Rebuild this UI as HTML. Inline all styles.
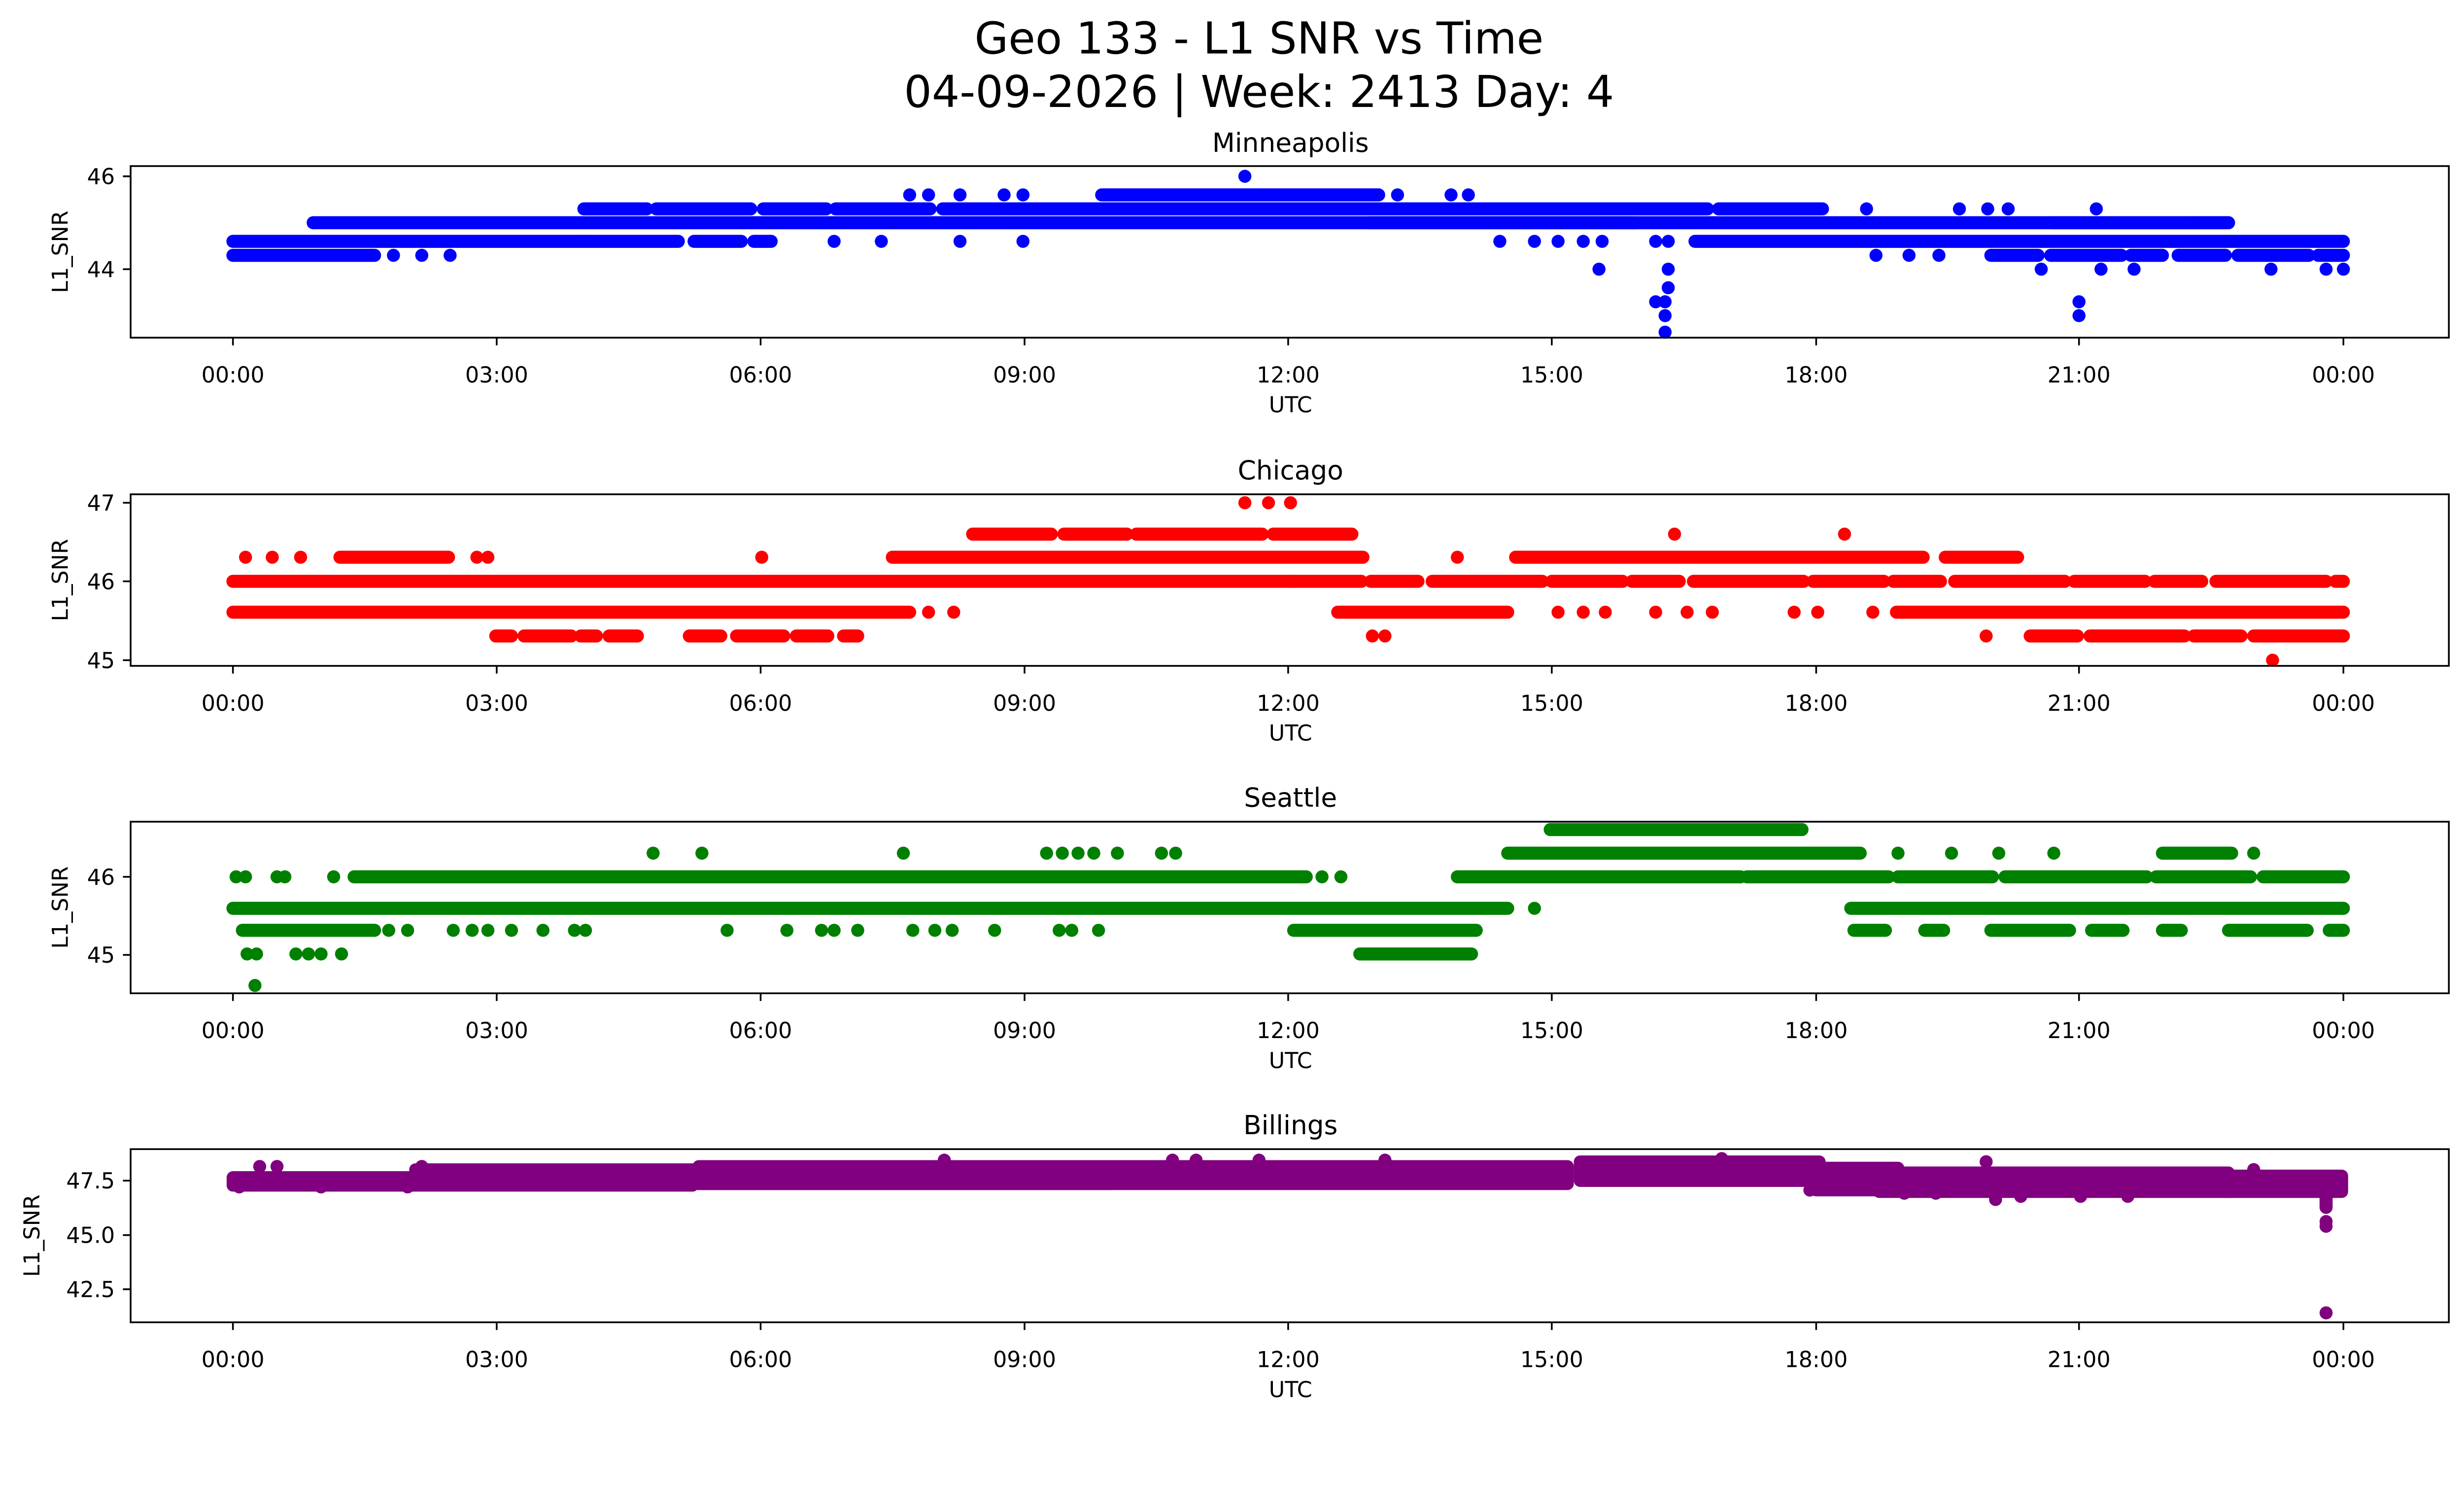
<!DOCTYPE html>
<html><head><meta charset="utf-8"><style>html,body{margin:0;padding:0;background:#fff;width:5278px;height:3033px;overflow:hidden}svg{display:block}circle{stroke:none}</style></head>
<body>
<svg xmlns="http://www.w3.org/2000/svg" width="5278" height="3033" font-family="'DejaVu Sans','Liberation Sans',sans-serif">
<rect width="5278" height="3033" fill="#fff"/>
<g transform="scale(3.1936)">
<text x="800" y="34" font-size="27.8" text-anchor="middle">Geo 133 - L1 SNR vs Time</text>
<text x="800" y="68" font-size="27.8" text-anchor="middle">04-09-2026 | Week: 2413 Day: 4</text>

<g stroke="#0000ff" stroke-width="8.3" stroke-linecap="round" fill="#0000ff">
<line x1="148" y1="162.2" x2="238" y2="162.2"/>
<line x1="148" y1="153.3" x2="371" y2="153.3"/>
<line x1="371" y1="153.3" x2="490" y2="153.3" stroke-dasharray="60 10 30 8"/>
<line x1="199" y1="141.5" x2="1416" y2="141.5"/>
<line x1="371" y1="132.7" x2="700" y2="132.7" stroke-dasharray="40 6 60 8"/>
<line x1="640" y1="132.7" x2="1085" y2="132.7"/>
<line x1="1092" y1="132.7" x2="1158" y2="132.7"/>
<line x1="700" y1="123.8" x2="876" y2="123.8"/>
<line x1="870" y1="141.5" x2="1040" y2="141.5"/>
<line x1="1077" y1="153.3" x2="1489" y2="153.3"/>
<line x1="1265" y1="162.2" x2="1489" y2="162.2" stroke-dasharray="30 8 45 6 20 10"/>
<line x1="1303" y1="141.5" x2="1416" y2="141.5"/>
<circle cx="791" cy="112" r="4.15"/>
<circle cx="250" cy="162.2" r="4.15"/><circle cx="268" cy="162.2" r="4.15"/><circle cx="286" cy="162.2" r="4.15"/>
<circle cx="530" cy="153.3" r="4.15"/><circle cx="560" cy="153.3" r="4.15"/><circle cx="610" cy="153.3" r="4.15"/><circle cx="650" cy="153.3" r="4.15"/>
<circle cx="578" cy="123.8" r="4.15"/><circle cx="590" cy="123.8" r="4.15"/><circle cx="610" cy="123.8" r="4.15"/><circle cx="638" cy="123.8" r="4.15"/><circle cx="650" cy="123.8" r="4.15"/>
<circle cx="888" cy="123.8" r="4.15"/><circle cx="922" cy="123.8" r="4.15"/><circle cx="933" cy="123.8" r="4.15"/>
<circle cx="953" cy="153.3" r="4.15"/><circle cx="975" cy="153.3" r="4.15"/><circle cx="990" cy="153.3" r="4.15"/><circle cx="1006" cy="153.3" r="4.15"/><circle cx="1018" cy="153.3" r="4.15"/>
<circle cx="1016" cy="171" r="4.15"/>
<circle cx="1052" cy="153.3" r="4.15"/><circle cx="1060" cy="153.3" r="4.15"/>
<circle cx="1052" cy="191.7" r="4.15"/><circle cx="1058" cy="191.7" r="4.15"/><circle cx="1058" cy="200.5" r="4.15"/><circle cx="1058" cy="211" r="4.15"/><circle cx="1060" cy="182.8" r="4.15"/><circle cx="1060" cy="171" r="4.15"/>
<circle cx="1186" cy="132.7" r="4.15"/><circle cx="1245" cy="132.7" r="4.15"/><circle cx="1263" cy="132.7" r="4.15"/><circle cx="1276" cy="132.7" r="4.15"/><circle cx="1332" cy="132.7" r="4.15"/>
<circle cx="1192" cy="162.2" r="4.15"/><circle cx="1213" cy="162.2" r="4.15"/><circle cx="1232" cy="162.2" r="4.15"/>
<circle cx="1297" cy="171" r="4.15"/><circle cx="1335" cy="171" r="4.15"/><circle cx="1356" cy="171" r="4.15"/><circle cx="1443" cy="171" r="4.15"/><circle cx="1478" cy="171" r="4.15"/><circle cx="1489" cy="171" r="4.15"/>
<circle cx="1321" cy="191.7" r="4.15"/><circle cx="1321" cy="200.5" r="4.15"/>
</g>

<g stroke="#ff0000" stroke-width="8.3" stroke-linecap="round" fill="#ff0000">
<line x1="148" y1="369.3" x2="820" y2="369.3"/>
<line x1="820" y1="369.3" x2="1489" y2="369.3" stroke-dasharray="45 6 30 9 70 6"/>
<line x1="148" y1="388.9" x2="578" y2="388.9"/>
<line x1="850" y1="388.9" x2="958" y2="388.9"/>
<line x1="1205" y1="388.9" x2="1489" y2="388.9"/>
<line x1="315" y1="404" x2="405" y2="404" stroke-dasharray="10 8 30 6"/>
<line x1="438" y1="404" x2="545" y2="404" stroke-dasharray="20 10 30 8"/>
<line x1="1290" y1="404" x2="1489" y2="404" stroke-dasharray="30 8 60 6"/>
<line x1="216" y1="354" x2="285" y2="354"/>
<line x1="567" y1="354" x2="866" y2="354"/>
<line x1="963" y1="354" x2="1222" y2="354"/>
<line x1="1236" y1="354" x2="1282" y2="354"/>
<line x1="618" y1="339.3" x2="860" y2="339.3" stroke-dasharray="50 8 40 6 80 7"/>
<circle cx="156" cy="354" r="4.15"/><circle cx="173" cy="354" r="4.15"/><circle cx="191" cy="354" r="4.15"/><circle cx="303" cy="354" r="4.15"/><circle cx="310" cy="354" r="4.15"/>
<circle cx="484" cy="354" r="4.15"/><circle cx="926" cy="354" r="4.15"/><circle cx="1064" cy="339.3" r="4.15"/><circle cx="1172" cy="339.3" r="4.15"/>
<circle cx="791" cy="319.4" r="4.15"/><circle cx="806" cy="319.4" r="4.15"/><circle cx="820" cy="319.4" r="4.15"/>
<circle cx="872" cy="404" r="4.15"/><circle cx="880" cy="404" r="4.15"/>
<circle cx="990" cy="388.9" r="4.15"/><circle cx="1006" cy="388.9" r="4.15"/><circle cx="1020" cy="388.9" r="4.15"/><circle cx="1052" cy="388.9" r="4.15"/><circle cx="1072" cy="388.9" r="4.15"/><circle cx="1088" cy="388.9" r="4.15"/><circle cx="1140" cy="388.9" r="4.15"/><circle cx="1155" cy="388.9" r="4.15"/><circle cx="1190" cy="388.9" r="4.15"/>
<circle cx="590" cy="388.9" r="4.15"/><circle cx="606" cy="388.9" r="4.15"/><circle cx="1262" cy="404" r="4.15"/>
<circle cx="1444" cy="419.4" r="4.15"/>
</g>

<g stroke="#008000" stroke-width="8.3" stroke-linecap="round" fill="#008000">
<line x1="148" y1="577" x2="958" y2="577"/>
<line x1="1176" y1="577" x2="1489" y2="577"/>
<line x1="225" y1="557" x2="830" y2="557"/>
<line x1="926" y1="557" x2="1106" y2="557"/>
<line x1="1110" y1="557" x2="1489" y2="557" stroke-dasharray="90 6 60 8"/>
<line x1="154" y1="591" x2="238" y2="591"/>
<line x1="822" y1="591" x2="938" y2="591"/>
<line x1="864" y1="606" x2="935" y2="606"/>
<line x1="958" y1="542" x2="1182" y2="542"/>
<line x1="985" y1="527" x2="1145" y2="527"/>
<line x1="1374" y1="542" x2="1418" y2="542"/>
<line x1="1178" y1="591" x2="1489" y2="591" stroke-dasharray="20 25 12 30 50 14"/>
<circle cx="150" cy="557" r="4.15"/><circle cx="156" cy="557" r="4.15"/><circle cx="176" cy="557" r="4.15"/><circle cx="181" cy="557" r="4.15"/><circle cx="212" cy="557" r="4.15"/>
<circle cx="157" cy="606" r="4.15"/><circle cx="163" cy="606" r="4.15"/><circle cx="188" cy="606" r="4.15"/><circle cx="196" cy="606" r="4.15"/><circle cx="204" cy="606" r="4.15"/><circle cx="217" cy="606" r="4.15"/>
<circle cx="162" cy="626" r="4.15"/>
<circle cx="247" cy="591" r="4.15"/><circle cx="259" cy="591" r="4.15"/><circle cx="288" cy="591" r="4.15"/><circle cx="300" cy="591" r="4.15"/><circle cx="310" cy="591" r="4.15"/><circle cx="325" cy="591" r="4.15"/><circle cx="345" cy="591" r="4.15"/><circle cx="365" cy="591" r="4.15"/><circle cx="372" cy="591" r="4.15"/>
<circle cx="462" cy="591" r="4.15"/><circle cx="500" cy="591" r="4.15"/><circle cx="522" cy="591" r="4.15"/><circle cx="530" cy="591" r="4.15"/><circle cx="545" cy="591" r="4.15"/><circle cx="580" cy="591" r="4.15"/><circle cx="594" cy="591" r="4.15"/><circle cx="605" cy="591" r="4.15"/><circle cx="632" cy="591" r="4.15"/><circle cx="673" cy="591" r="4.15"/><circle cx="681" cy="591" r="4.15"/><circle cx="698" cy="591" r="4.15"/>
<circle cx="415" cy="542" r="4.15"/><circle cx="446" cy="542" r="4.15"/><circle cx="574" cy="542" r="4.15"/><circle cx="665" cy="542" r="4.15"/><circle cx="675" cy="542" r="4.15"/><circle cx="685" cy="542" r="4.15"/><circle cx="695" cy="542" r="4.15"/><circle cx="710" cy="542" r="4.15"/><circle cx="738" cy="542" r="4.15"/><circle cx="747" cy="542" r="4.15"/>
<circle cx="840" cy="557" r="4.15"/><circle cx="852" cy="557" r="4.15"/><circle cx="975" cy="577" r="4.15"/>
<circle cx="1206" cy="542" r="4.15"/><circle cx="1240" cy="542" r="4.15"/><circle cx="1270" cy="542" r="4.15"/><circle cx="1305" cy="542" r="4.15"/><circle cx="1432" cy="542" r="4.15"/>
</g>

<g fill="#800080">
<rect x="144" y="744" width="300" height="13" rx="4"/>
<rect x="260" y="739" width="450" height="17" rx="4"/>
<rect x="440" y="737" width="560" height="19" rx="4"/>
<rect x="1000" y="734" width="160" height="20" rx="4"/>
<rect x="1150" y="738" width="60" height="22" rx="4"/>
<rect x="1190" y="741" width="230" height="20" rx="4"/>
<rect x="1410" y="743" width="82" height="18" rx="4"/>
<g stroke="#800080" stroke-width="8.3" stroke-linecap="round">
<circle cx="152" cy="754" r="4.15"/><circle cx="165" cy="741" r="4.15"/><circle cx="176" cy="741" r="4.15"/><circle cx="204" cy="754" r="4.15"/><circle cx="259" cy="754" r="4.15"/><circle cx="268" cy="741" r="4.15"/>
<circle cx="600" cy="737" r="4.15"/><circle cx="745" cy="737" r="4.15"/><circle cx="760" cy="737" r="4.15"/><circle cx="800" cy="737" r="4.15"/><circle cx="880" cy="737" r="4.15"/>
<circle cx="1094" cy="736" r="4.15"/><circle cx="1150" cy="756" r="4.15"/><circle cx="1210" cy="758" r="4.15"/><circle cx="1230" cy="758" r="4.15"/>
<circle cx="1262" cy="738" r="4.15"/><circle cx="1268" cy="762" r="4.15"/><circle cx="1284" cy="760" r="4.15"/>
<circle cx="1322" cy="760" r="4.15"/><circle cx="1352" cy="760" r="4.15"/><circle cx="1432" cy="743" r="4.15"/>
<line x1="1478" y1="760" x2="1478" y2="767"/>
<circle cx="1478" cy="776" r="4.15"/><circle cx="1478" cy="779" r="4.15"/>
<circle cx="1478" cy="834" r="4.15"/>
</g>
</g>

<g fill="none" stroke="#000" stroke-width="1.1">
<rect x="83" y="105.5" width="1473" height="109"/>
<rect x="83" y="314" width="1473" height="109"/>
<rect x="83" y="522" width="1473" height="109"/>
<rect x="83" y="730" width="1473" height="110"/>
</g>

<g stroke="#000" stroke-width="1.1">
<path d="M148 214.5v4.9M315.6 214.5v4.9M483.3 214.5v4.9M651 214.5v4.9M818.5 214.5v4.9M986 214.5v4.9M1154 214.5v4.9M1321 214.5v4.9M1489 214.5v4.9"/>
<path d="M148 423v4.9M315.6 423v4.9M483.3 423v4.9M651 423v4.9M818.5 423v4.9M986 423v4.9M1154 423v4.9M1321 423v4.9M1489 423v4.9"/>
<path d="M148 631v4.9M315.6 631v4.9M483.3 631v4.9M651 631v4.9M818.5 631v4.9M986 631v4.9M1154 631v4.9M1321 631v4.9M1489 631v4.9"/>
<path d="M148 840v4.9M315.6 840v4.9M483.3 840v4.9M651 840v4.9M818.5 840v4.9M986 840v4.9M1154 840v4.9M1321 840v4.9M1489 840v4.9"/>
<path d="M83 112h-4.9M83 171h-4.9M83 319.4h-4.9M83 369.3h-4.9M83 419.4h-4.9M83 557h-4.9M83 606.6h-4.9M83 750h-4.9M83 784.6h-4.9M83 819h-4.9"/>
</g>

<g font-size="13.9" text-anchor="middle">
<g>
<text x="148" y="243">00:00</text><text x="315.6" y="243">03:00</text><text x="483.3" y="243">06:00</text><text x="651" y="243">09:00</text><text x="818.5" y="243">12:00</text><text x="986" y="243">15:00</text><text x="1154" y="243">18:00</text><text x="1321" y="243">21:00</text><text x="1489" y="243">00:00</text>
<text x="820" y="262">UTC</text>
</g>
<g transform="translate(0,208.5)">
<text x="148" y="243">00:00</text><text x="315.6" y="243">03:00</text><text x="483.3" y="243">06:00</text><text x="651" y="243">09:00</text><text x="818.5" y="243">12:00</text><text x="986" y="243">15:00</text><text x="1154" y="243">18:00</text><text x="1321" y="243">21:00</text><text x="1489" y="243">00:00</text>
<text x="820" y="262">UTC</text>
</g>
<g transform="translate(0,416.5)">
<text x="148" y="243">00:00</text><text x="315.6" y="243">03:00</text><text x="483.3" y="243">06:00</text><text x="651" y="243">09:00</text><text x="818.5" y="243">12:00</text><text x="986" y="243">15:00</text><text x="1154" y="243">18:00</text><text x="1321" y="243">21:00</text><text x="1489" y="243">00:00</text>
<text x="820" y="262">UTC</text>
</g>
<g transform="translate(0,625.5)">
<text x="148" y="243">00:00</text><text x="315.6" y="243">03:00</text><text x="483.3" y="243">06:00</text><text x="651" y="243">09:00</text><text x="818.5" y="243">12:00</text><text x="986" y="243">15:00</text><text x="1154" y="243">18:00</text><text x="1321" y="243">21:00</text><text x="1489" y="243">00:00</text>
<text x="820" y="262">UTC</text>
</g>
</g>

<g font-size="13.9" text-anchor="end">
<text x="73" y="117">46</text><text x="73" y="176">44</text>
<text x="73" y="324.4">47</text><text x="73" y="374.3">46</text><text x="73" y="424.4">45</text>
<text x="73" y="562">46</text><text x="73" y="611.6">45</text>
<text x="73" y="755">47.5</text><text x="73" y="789.6">45.0</text><text x="73" y="824">42.5</text>
</g>

<g font-size="13.9" text-anchor="middle">
<text transform="translate(43,160) rotate(-90)">L1_SNR</text>
<text transform="translate(43,368.5) rotate(-90)">L1_SNR</text>
<text transform="translate(43,576.5) rotate(-90)">L1_SNR</text>
<text transform="translate(25,785) rotate(-90)">L1_SNR</text>
</g>

<g font-size="16.7" text-anchor="middle">
<text x="820" y="96.5">Minneapolis</text>
<text x="820" y="304.5">Chicago</text>
<text x="820" y="512.5">Seattle</text>
<text x="820" y="720.5">Billings</text>
</g>
</g>
</svg>
</body></html>
